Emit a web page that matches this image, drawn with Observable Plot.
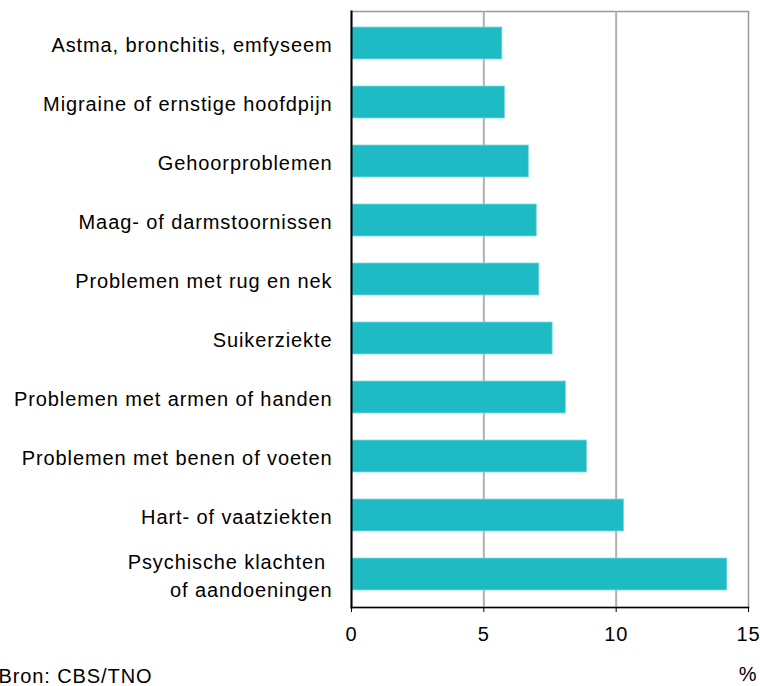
<!DOCTYPE html>
<html>
<head>
<meta charset="utf-8">
<script src="https://cdn.jsdelivr.net/npm/d3@7"></script>
<script src="https://cdn.jsdelivr.net/npm/@observablehq/plot@0.6"></script>
<style>
  html, body { margin: 0; padding: 0; background: #fff; }
  #chart svg { display: block; overflow: visible; }
</style>
</head>
<body>
<div id="chart"></div>
<script>
const categories = [
  "Astma, bronchitis, emfyseem",
  "Migraine of ernstige hoofdpijn",
  "Gehoorproblemen",
  "Maag- of darmstoornissen",
  "Problemen met rug en nek",
  "Suikerziekte",
  "Problemen met armen of handen",
  "Problemen met benen of voeten",
  "Hart- of vaatziekten",
  "Psychische klachten\u00a0\nof aandoeningen"
];
const values = [5.7, 5.8, 6.7, 7.0, 7.1, 7.6, 8.1, 8.9, 10.3, 14.2];
const xTicks = [0, 5, 10, 15];
const gridValues = [5, 10];
const unitLabel = "%";
const source = "Bron: CBS/TNO";

const data = categories.map((c, i) => ({category: c, value: values[i]}));

const chart = Plot.plot({
  width: 760,
  height: 686,
  marginLeft: 351,
  marginRight: 12,
  marginTop: 11,
  marginBottom: 79,
  style: {
    fontFamily: "'Liberation Sans', Arial, sans-serif",
    fontSize: "20px",
    letterSpacing: "0.9px",
    color: "#000",
    background: "#fff",
    overflow: "visible"
  },
  x: {domain: [0, 15], ticks: xTicks},
  y: {domain: categories, padding: 0.45, paddingOuter: 0.225},
  marks: [
    Plot.frame({stroke: "#999", strokeWidth: 1.5}),
    Plot.ruleX(gridValues, {stroke: "#b0b0b0", strokeWidth: 2}),
    Plot.barX(data, {x: "value", y: "category", fill: "#1ebbc5", stroke: "#7fd9df", strokeWidth: 0.8}),
    Plot.frame({anchor: "left", stroke: "#000", strokeWidth: 2}),
    Plot.frame({anchor: "bottom", stroke: "#000", strokeWidth: 1.5}),
    Plot.axisX({
      ticks: xTicks,
      tickSize: 5,
      tickPadding: 14,
      fontSize: 20,
      label: unitLabel,
      labelAnchor: "right",
      labelArrow: "none",
      labelOffset: 73
    }),
    Plot.axisY({
      tickSize: 0,
      tickPadding: 19,
      fontSize: 20,
      lineHeight: 1.4,
      textOverflow: null,
      lineWidth: Infinity,
      label: null
    }),
    Plot.text([source], {
      frameAnchor: "bottom-left",
      textAnchor: "start",
      lineAnchor: "bottom",
      dx: -353,
      dy: 75,
      fontSize: 20
    })
  ]
});
document.getElementById("chart").appendChild(chart);
</script>
</body>
</html>
